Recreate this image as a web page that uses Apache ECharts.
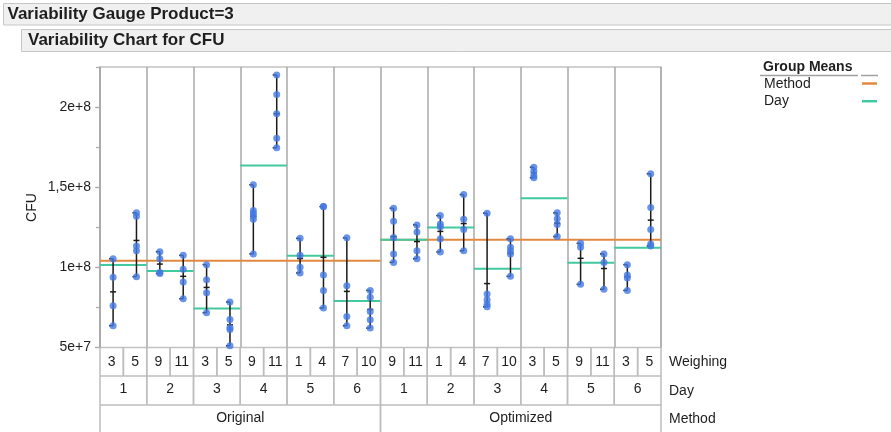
<!DOCTYPE html>
<html><head><meta charset="utf-8">
<script src="https://cdn.jsdelivr.net/npm/echarts@6/dist/echarts.min.js"></script>
<style>html,body{margin:0;padding:0;background:#fff}#c{width:891px;height:432px}</style>
</head><body><div id="c"></div>
<script>
// ---------- data ----------
const methods = ['Original', 'Optimized'];
const days = [1, 2, 3, 4, 5, 6, 1, 2, 3, 4, 5, 6];
const weighings = [3, 5, 9, 11, 3, 5, 9, 11, 1, 4, 7, 10, 9, 11, 1, 4, 7, 10, 3, 5, 9, 11, 3, 5];
// CFU values per Method/Day/Weighing cell, in millions
const cfuOriginal = [
  [105.4, 93.8, 76.1, 63.6],
  [134.0, 131.9, 113.4, 110.4, 94.2],
  [109.8, 105.4, 96.8, 96.2],
  [107.5, 98.8, 90.9, 80.4],
  [101.7, 92.3, 84.2, 71.7],
  [78.4, 67.5, 62.5, 61.3, 51.1],
  [151.5, 135.4, 133.8, 132.1, 130.0, 108.4],
  [220.0, 207.8, 195.9, 180.6, 174.6],
  [118.1, 107.5, 100.0, 96.5],
  [137.9, 137.9, 95.3, 85.6, 74.6],
  [118.4, 88.6, 69.4, 63.6],
  [85.6, 81.3, 72.5, 67.3, 62.1]
];
const cfuOptimized = [
  [136.9, 128.8, 118.6, 108.4, 103.1],
  [126.5, 122.1, 110.4, 105.4],
  [132.3, 127.1, 125.4, 117.8, 109.6],
  [145.4, 130.0, 123.6, 110.3],
  [133.8, 83.4, 79.8, 77.0, 75.4],
  [117.8, 112.5, 110.4, 108.4, 94.4],
  [162.5, 160.0, 157.3, 155.9],
  [134.0, 130.3, 126.7, 119.2],
  [115.0, 112.5, 89.4],
  [108.4, 103.1, 86.3],
  [101.7, 95.3, 93.4, 85.6],
  [158.4, 137.3, 123.6, 114.6, 113.4]
];
const dayMeans = [101.5, 97.7, 74.4, 163.6, 107.3, 79.0, 117.3, 124.8, 99.2, 143.1, 102.9, 112.3];
const methodMeans = [104.2, 117.3];
const yTickValues = [5e7, 1e8, 1.5e8, 2e8];
const yTickLabels = ['5e+7', '1e+8', '1,5e+8', '2e+8'];
const rowNames = ['Weighing', 'Day', 'Method'];

// ---------- derived series data ----------
const UNIT = 1e6;
const YMIN = 5e7, YMAX = 2.25e8;
const cells = cfuOriginal.concat(cfuOptimized);
const pointOffset = 0.56;
const points = [];
const ranges = [];
cells.forEach((vals, i) => {
  const vs = vals.map(v => v * UNIT);
  vs.forEach(v => points.push([i + pointOffset, v]));
  const mn = Math.min(...vs), mx = Math.max(...vs);
  const mean = vs.reduce((a, b) => a + b, 0) / vs.length;
  ranges.push([i + pointOffset, mn, mx, mean]);
});
const dayLines = dayMeans.map((m, d) => [2 * d, 2 * d + 2, m * UNIT]);
const methodLines = methodMeans.map((m, k) => [12 * k, 12 * k + 12, m * UNIT]);
const weighCells = weighings.map((w, i) => [i, i + 1]);
const dayCells = days.map((d, i) => [2 * i, 2 * i + 2]);
const methodCells = methods.map((m, i) => [12 * i, 12 * i + 12]);

const FONT = '"Liberation Sans", Arial, sans-serif';
const TXT = '#1e1e1e';
const ORANGE = '#E3883F';
const GREEN = '#42C99F';
const GRID_LINE = '#a9a9a9';
const ROW_LINE = '#bdbdbd';

function hLineRender(color, width) {
  return function (params, api) {
    const a = api.coord([api.value(0), api.value(2)]);
    const b = api.coord([api.value(1), api.value(2)]);
    return { type: 'line', shape: { x1: a[0], y1: a[1], x2: b[0], y2: b[1] },
      style: { stroke: color, lineWidth: width } };
  };
}

function rangeRender(params, api) {
  const x = api.value(0);
  const lo = api.coord([x, api.value(1)]);
  const hi = api.coord([x, api.value(2)]);
  const me = api.coord([x, api.value(3)]);
  const st = { stroke: '#1a1a1a', lineWidth: 1.5 };
  return { type: 'group', children: [
    { type: 'line', shape: { x1: lo[0], y1: lo[1], x2: hi[0], y2: hi[1] }, style: st },
    { type: 'line', shape: { x1: lo[0] - 4, y1: lo[1], x2: lo[0], y2: lo[1] }, style: st },
    { type: 'line', shape: { x1: hi[0] - 4, y1: hi[1], x2: hi[0], y2: hi[1] }, style: st },
    { type: 'line', shape: { x1: me[0] - 3, y1: me[1], x2: me[0] + 3, y2: me[1] }, style: st }
  ] };
}

function rowRender(labels, top, bottom, textDy, drawBottom) {
  return function (params, api) {
    const s = api.coord([api.value(0), YMIN]);
    const e = api.coord([api.value(1), YMIN]);
    const y0 = s[1] + top, y1 = s[1] + bottom;
    const st = { stroke: ROW_LINE, lineWidth: 1.5 };
    const ch = [
      { type: 'line', shape: { x1: s[0], y1: y0, x2: s[0], y2: y1 }, style: st },
      { type: 'line', shape: { x1: e[0], y1: y0, x2: e[0], y2: y1 }, style: st },
      { type: 'text', x: (s[0] + e[0]) / 2, y: (y0 + y1) / 2 + textDy,
        style: { text: String(labels[params.dataIndex]), fill: TXT, fontSize: 14, fontFamily: FONT,
          align: 'center', verticalAlign: 'middle' } }
    ];
    if (drawBottom) ch.push({ type: 'line', shape: { x1: s[0], y1: y1, x2: e[0], y2: y1 }, style: st });
    return { type: 'group', children: ch };
  };
}

const chart = echarts.init(document.getElementById('c'), null, { renderer: 'canvas' });
chart.setOption({
  animation: false,
  backgroundColor: '#ffffff',
  grid: { left: 100, right: 230, top: 67, bottom: 84.5, show: true, borderColor: '#c2c2c2', borderWidth: 1.5 },
  xAxis: [{
    type: 'value', min: 0, max: 24, interval: 2,
    axisLine: { show: false }, axisTick: { show: false }, axisLabel: { show: false },
    splitLine: { show: true, lineStyle: { color: GRID_LINE, width: 1.5 } }
  }],
  yAxis: [{
    type: 'value', min: YMIN, max: YMAX, interval: 5e7, position: 'left',
    axisLine: { show: true, lineStyle: { color: GRID_LINE, width: 1.5 } },
    axisTick: { show: true, length: 5, lineStyle: { color: GRID_LINE, width: 1.2 } },
    axisLabel: {
      color: TXT, fontSize: 14, fontFamily: FONT, margin: 9, showMaxLabel: false,
      formatter: v => {
        const i = yTickValues.findIndex(t => Math.abs(t - v) < 1);
        return i >= 0 ? yTickLabels[i] : '';
      }
    },
    splitLine: { show: false }
  }, {
    type: 'value', min: YMIN, max: YMAX, interval: 2.5e7, position: 'left', offset: 0,
    axisLine: { show: false },
    axisTick: { show: true, length: 4, lineStyle: { color: GRID_LINE, width: 1.2 } },
    axisLabel: { show: false }, splitLine: { show: false }
  }],
  series: [
    { type: 'custom', name: 'MethodMeans', renderItem: hLineRender(ORANGE, 2), data: methodLines,
      encode: { x: [0, 1], y: 2 }, z: 2, silent: true },
    { type: 'custom', name: 'DayMeans', renderItem: hLineRender(GREEN, 2), data: dayLines,
      encode: { x: [0, 1], y: 2 }, z: 3, silent: true },
    { type: 'custom', name: 'Ranges', renderItem: rangeRender, data: ranges,
      encode: { x: 0, y: [1, 2] }, z: 4, silent: true },
    { type: 'scatter', name: 'CFU', data: points, symbol: 'circle', symbolSize: 7,
      itemStyle: { color: '#4479E3' }, z: 5, silent: true },
    { type: 'custom', renderItem: rowRender(weighings, 0, 28.5, 0, true), data: weighCells,
      encode: { x: [0, 1] }, clip: false, silent: true, z: 6 },
    { type: 'custom', renderItem: rowRender(days, 28.5, 57.5, -1, true), data: dayCells,
      encode: { x: [0, 1] }, clip: false, silent: true, z: 6 },
    { type: 'custom', renderItem: rowRender(methods, 57.5, 86, -1.5, false), data: methodCells,
      encode: { x: [0, 1] }, clip: false, silent: true, z: 6 }
  ],
  graphic: [
    { type: 'rect', shape: { x: 3.5, y: 3.5, width: 890, height: 21.5 },
      style: { fill: '#f0f0f0', stroke: '#c6c6c6', lineWidth: 1 } },
    { type: 'text', x: 7.5, y: 14.5, style: { text: 'Variability Gauge Product=3', fill: TXT,
      font: 'bold 17px ' + FONT, verticalAlign: 'middle' } },
    { type: 'rect', shape: { x: 21.5, y: 29.5, width: 880, height: 22 },
      style: { fill: '#f0f0f0', stroke: '#c6c6c6', lineWidth: 1 } },
    { type: 'text', x: 28, y: 40.3, style: { text: 'Variability Chart for CFU', fill: TXT,
      font: 'bold 17px ' + FONT, verticalAlign: 'middle' } },
    { type: 'text', x: 32, y: 207.5, rotation: Math.PI / 2, style: { text: 'CFU', fill: TXT,
      font: '14px ' + FONT, align: 'center', verticalAlign: 'middle' } },
    // legend
    { type: 'text', x: 763, y: 67, style: { text: 'Group Means', fill: TXT,
      font: 'bold 14px ' + FONT, verticalAlign: 'middle' } },
    { type: 'line', shape: { x1: 760, y1: 75.5, x2: 858, y2: 75.5 }, style: { stroke: '#a0a0a0', lineWidth: 1.5 } },
    { type: 'line', shape: { x1: 861, y1: 75.5, x2: 878, y2: 75.5 }, style: { stroke: '#a0a0a0', lineWidth: 1.5 } },
    { type: 'text', x: 764, y: 84.5, style: { text: 'Method', fill: TXT, font: '14px ' + FONT, verticalAlign: 'middle' } },
    { type: 'line', shape: { x1: 862, y1: 83.5, x2: 877, y2: 83.5 }, style: { stroke: ORANGE, lineWidth: 2.5 } },
    { type: 'text', x: 764, y: 101.5, style: { text: 'Day', fill: TXT, font: '14px ' + FONT, verticalAlign: 'middle' } },
    { type: 'line', shape: { x1: 862, y1: 101.2, x2: 877, y2: 101.2 }, style: { stroke: GREEN, lineWidth: 2.5 } },
    // row names
    { type: 'text', x: 669, y: 362.5, style: { text: rowNames[0], fill: TXT, font: '14px ' + FONT, verticalAlign: 'middle' } },
    { type: 'text', x: 669, y: 391.5, style: { text: rowNames[1], fill: TXT, font: '14px ' + FONT, verticalAlign: 'middle' } },
    { type: 'text', x: 669, y: 419.5, style: { text: rowNames[2], fill: TXT, font: '14px ' + FONT, verticalAlign: 'middle' } }
  ]
});
</script>
</body></html>
